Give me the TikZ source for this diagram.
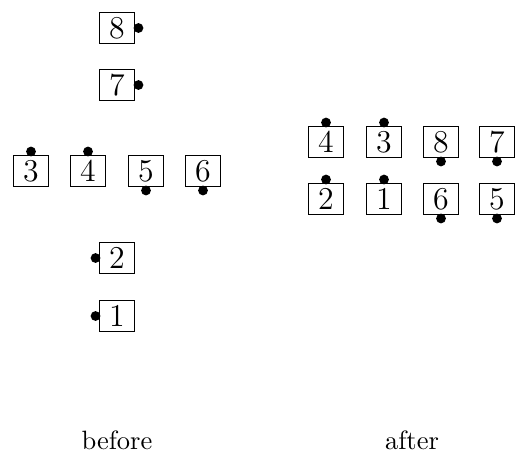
\documentclass[tikz,border=0pt]{standalone}
\begin{document}
\begin{tikzpicture}[x=0.3774pt,y=-0.3774pt,
  numbox/.style={draw,line width=0.4pt,minimum width=13.2pt,minimum height=11.7pt,inner sep=0pt,font=\large},
  dot/.style={fill=black}]
\useasboundingbox (0,0) rectangle (515,451);
% before
\node[numbox] (b8) at (117,28) {8};
\node[numbox] (b7) at (117,85) {7};
\node[numbox] (b3) at (31,171) {3};
\node[numbox] (b4) at (88,171) {4};
\node[numbox] (b5) at (146,171) {5};
\node[numbox] (b6) at (203,171) {6};
\node[numbox] (b2) at (117,258) {2};
\node[numbox] (b1) at (117,316) {1};
\fill[dot] ([xshift=1.3pt]b8.east) circle (1.85pt);
\fill[dot] ([xshift=1.3pt]b7.east) circle (1.85pt);
\fill[dot] ([yshift=1.3pt]b3.north) circle (1.85pt);
\fill[dot] ([yshift=1.3pt]b4.north) circle (1.85pt);
\fill[dot] ([yshift=-1.3pt]b5.south) circle (1.85pt);
\fill[dot] ([yshift=-1.3pt]b6.south) circle (1.85pt);
\fill[dot] ([xshift=-1.3pt]b2.west) circle (1.85pt);
\fill[dot] ([xshift=-1.3pt]b1.west) circle (1.85pt);
% after
\node[numbox] (a4) at (326,142) {4};
\node[numbox] (a3) at (384,142) {3};
\node[numbox] (a8) at (441,142) {8};
\node[numbox] (a7) at (497,142) {7};
\node[numbox] (a2) at (326,199) {2};
\node[numbox] (a1) at (384,199) {1};
\node[numbox] (a6) at (441,199) {6};
\node[numbox] (a5) at (497,199) {5};
\fill[dot] ([yshift=1.3pt]a4.north) circle (1.85pt);
\fill[dot] ([yshift=1.3pt]a3.north) circle (1.85pt);
\fill[dot] ([yshift=-1.3pt]a8.south) circle (1.85pt);
\fill[dot] ([yshift=-1.3pt]a7.south) circle (1.85pt);
\fill[dot] ([yshift=1.3pt]a2.north) circle (1.85pt);
\fill[dot] ([yshift=1.3pt]a1.north) circle (1.85pt);
\fill[dot] ([yshift=-1.3pt]a6.south) circle (1.85pt);
\fill[dot] ([yshift=-1.3pt]a5.south) circle (1.85pt);
% labels
\node (lbefore) at (117,440) {before};
\node (lafter) at (412,440) {after};
\end{tikzpicture}
\end{document}
